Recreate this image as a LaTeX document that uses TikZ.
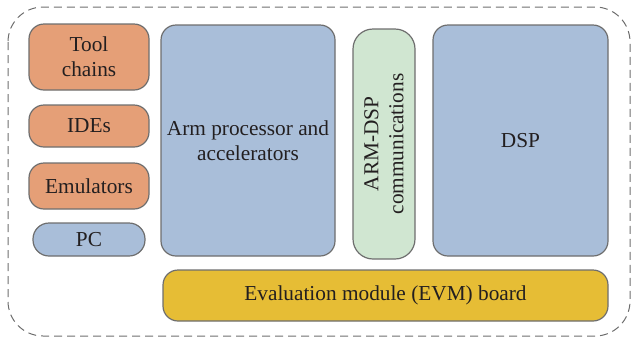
\documentclass[tikz,border=0pt]{standalone}
\usepackage{fontspec}
\newfontfamily\serf{Liberation Serif}
\definecolor{borange}{HTML}{E59F77}
\definecolor{bblue}{HTML}{A9BED9}
\definecolor{bgreen}{HTML}{D0E6D1}
\definecolor{byellow}{HTML}{E6BD35}
\definecolor{bedge}{HTML}{6E6E6E}
\definecolor{btext}{HTML}{231F20}
\begin{document}
\begin{tikzpicture}[x=1pt,y=-1pt,
  txt/.style={text=btext,align=center,font=\serf\fontsize{21.3}{25}\selectfont},
  blk/.style={txt,draw=bedge,line width=1.2pt,rounded corners=15pt,inner sep=0pt},
  outer/.style={draw=bedge,line width=1pt,dash pattern=on 8pt off 5pt,rounded corners=35pt}]
\useasboundingbox (0,0) rectangle (631,338);
\draw[outer] (8,7) rectangle (630,336);
\node[blk,fill=borange,minimum width=120pt,minimum height=66pt] (tool) at (89,57) {Tool\\chains};
\node[blk,fill=borange,minimum width=120pt,minimum height=42pt] (ide) at (89,126) {IDEs};
\node[blk,fill=borange,minimum width=120pt,minimum height=46pt] (emu) at (89,186) {Emulators};
\node[blk,fill=bblue,rounded corners=16pt,minimum width=112pt,minimum height=33pt] (pc) at (89,239.5) {PC};
\node[blk,fill=bblue,minimum width=174pt,minimum height=231pt] (arm) at (248,140.5) {Arm processor and\\accelerators};
\node[blk,fill=bgreen,rounded corners=20pt,minimum width=62pt,minimum height=230pt] (comm) at (384,144) {};
\node[txt,rotate=90] (commt) at (comm.center) {ARM-DSP\\communications};
\node[blk,fill=bblue,minimum width=175pt,minimum height=231pt] (dsp) at (520.5,140.5) {DSP};
\node[blk,fill=byellow,minimum width=445pt,minimum height=51pt] (evm) at (385.5,295.5) {Evaluation module (EVM) board};
\end{tikzpicture}
\end{document}
